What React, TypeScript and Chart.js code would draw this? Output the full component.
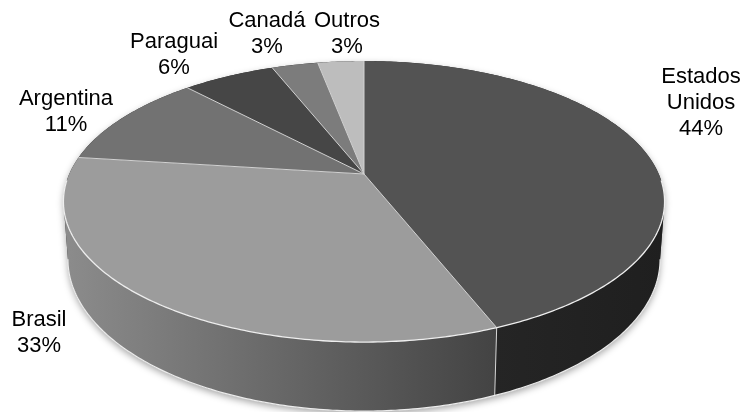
import React, { useEffect, useRef } from "react";
import { Chart, registerables } from "chart.js";

Chart.register(...registerables);

// Origem das importações (participação %)
const CATEGORIES = ["Estados Unidos", "Brasil", "Argentina", "Paraguai", "Canadá", "Outros"];
const SHARES = [44, 33, 11, 6, 3, 3];
const LABEL_LINES = [["Estados", "Unidos"], ["Brasil"], ["Argentina"], ["Paraguai"], ["Canadá"], ["Outros"]];

// Top-face and side-wall shades of each slice
const TOP_COLORS = ["#535353", "#9c9c9c", "#727272", "#464646", "#7c7c7c", "#bdbdbd"];
const SIDE_COLORS = [
  ["#252525", "#1f1f1f"],
  ["#8c8c8c", "#434343"],
  ["#5c5c5c", "#404040"],
  ["#333333", "#2a2a2a"],
  ["#606060", "#505050"],
  ["#9a9a9a", "#8a8a8a"],
];

// Label anchors: centre x and first baseline y
const LABEL_ANCHORS = [
  { x: 701, y: 83 },
  { x: 39, y: 326 },
  { x: 66, y: 105 },
  { x: 174, y: 48 },
  { x: 267, y: 27 },
  { x: 347, y: 27 },
];
const LINE_HEIGHT = 26;

// Tilted, perspective view of the disc
const VIEW = {
  ax: 1.694, // horizontal scale (× outer radius)
  by: 0.7765, // vertical scale (× outer radius)
  persp: 0.196, // perspective strength along depth
  depth: 0.319, // wall thickness (× outer radius)
  shrink: 0.985, // horizontal convergence of the wall's lower rim
};

const pie3d = {
  id: "pie3d",
  beforeDatasetsDraw(chart: any) {
    const ctx: CanvasRenderingContext2D = chart.ctx;
    const meta = chart.getDatasetMeta(0);
    const arcs = meta.data as any[];
    if (!arcs.length) return false;
    const cx = arcs[0].x;
    const cy = arcs[0].y;
    const R = arcs[0].outerRadius;
    const A = VIEW.ax * R;
    const B = VIEW.by * R;
    const P = VIEW.persp;
    const D = VIEW.depth * R;

    const top = (a: number) => {
      const u = Math.cos(a);
      const v = Math.sin(a);
      const w = 1 - P * v;
      return { x: cx + (A * u) / w, y: cy + (B * v) / w, w };
    };
    const bottom = (a: number) => {
      const t = top(a);
      return { x: cx + (t.x - cx) * VIEW.shrink, y: t.y + D / t.w };
    };
    const steps = (a0: number, a1: number) => Math.max(2, Math.ceil(Math.abs(a1 - a0) * 80));

    const aR = Math.asin(P);
    const aL = Math.PI - aR;

    ctx.save();

    // silhouette with soft drop shadow
    ctx.beginPath();
    let n = steps(aR, aL);
    for (let i = 0; i <= n; i++) {
      const p = bottom(aR + ((aL - aR) * i) / n);
      i === 0 ? ctx.moveTo(p.x, p.y) : ctx.lineTo(p.x, p.y);
    }
    n = steps(aL, aR + 2 * Math.PI);
    for (let i = 0; i <= n; i++) {
      const p = top(aL + ((aR + 2 * Math.PI - aL) * i) / n);
      ctx.lineTo(p.x, p.y);
    }
    ctx.closePath();
    ctx.shadowColor = "rgba(0,0,0,0.35)";
    ctx.shadowBlur = 7;
    ctx.shadowOffsetY = 3;
    ctx.fillStyle = "#2a2a2a";
    ctx.fill();
    ctx.shadowColor = "transparent";
    ctx.shadowBlur = 0;
    ctx.shadowOffsetY = 0;

    // side walls (front half only)
    arcs.forEach((arc, i) => {
      const a0 = Math.max(arc.startAngle, aR);
      const a1 = Math.min(arc.endAngle, aL);
      if (a1 <= a0) return;
      const m = steps(a0, a1);
      const pts: { x: number; y: number }[] = [];
      for (let k = 0; k <= m; k++) pts.push(top(a0 + ((a1 - a0) * k) / m));
      const bot: { x: number; y: number }[] = [];
      for (let k = m; k >= 0; k--) bot.push(bottom(a0 + ((a1 - a0) * k) / m));
      const all = pts.concat(bot);
      const xs = all.map((p) => p.x);
      const minX = Math.min(...xs);
      const maxX = Math.max(...xs);
      const g = ctx.createLinearGradient(minX, 0, maxX, 0);
      g.addColorStop(0, SIDE_COLORS[i][0]);
      g.addColorStop(1, SIDE_COLORS[i][1]);
      ctx.beginPath();
      all.forEach((p, k) => (k === 0 ? ctx.moveTo(p.x, p.y) : ctx.lineTo(p.x, p.y)));
      ctx.closePath();
      ctx.fillStyle = g;
      ctx.fill();
    });

    // seams between walls
    ctx.strokeStyle = "#d6d6d6";
    ctx.lineWidth = 1;
    arcs.forEach((arc) => {
      const a = arc.endAngle;
      if (a > aR && a < aL) {
        const t = top(a);
        const b = bottom(a);
        ctx.beginPath();
        ctx.moveTo(t.x, t.y);
        ctx.lineTo(b.x, b.y);
        ctx.stroke();
      }
    });

    // lower rim highlight
    ctx.beginPath();
    n = steps(aR, aL);
    for (let i = 0; i <= n; i++) {
      const p = bottom(aR + ((aL - aR) * i) / n);
      i === 0 ? ctx.moveTo(p.x, p.y) : ctx.lineTo(p.x, p.y);
    }
    ctx.strokeStyle = "#ececec";
    ctx.lineWidth = 1.2;
    ctx.stroke();

    // top faces
    arcs.forEach((arc, i) => {
      const a0 = arc.startAngle;
      const a1 = arc.endAngle;
      const m = steps(a0, a1);
      ctx.beginPath();
      ctx.moveTo(cx, cy);
      for (let k = 0; k <= m; k++) {
        const p = top(a0 + ((a1 - a0) * k) / m);
        ctx.lineTo(p.x, p.y);
      }
      ctx.closePath();
      ctx.fillStyle = TOP_COLORS[i];
      ctx.fill();
    });

    // slice borders on the top face
    ctx.strokeStyle = "#d2d2d2";
    ctx.lineWidth = 1;
    arcs.forEach((arc) => {
      const p = top(arc.startAngle);
      ctx.beginPath();
      ctx.moveTo(cx, cy);
      ctx.lineTo(p.x, p.y);
      ctx.stroke();
    });

    // upper rim highlight along the front
    ctx.beginPath();
    const r0 = aR - 0.15;
    const r1 = aL + 0.15;
    n = steps(r0, r1);
    for (let i = 0; i <= n; i++) {
      const p = top(r0 + ((r1 - r0) * i) / n);
      i === 0 ? ctx.moveTo(p.x, p.y) : ctx.lineTo(p.x, p.y);
    }
    ctx.strokeStyle = "#eeeeee";
    ctx.lineWidth = 1.3;
    ctx.stroke();

    // data labels
    const values = chart.data.datasets[0].data as number[];
    const total = values.reduce((s, v) => s + v, 0);
    ctx.fillStyle = "#000000";
    ctx.font = "22px 'Liberation Sans', Arial, sans-serif";
    ctx.textAlign = "center";
    ctx.textBaseline = "alphabetic";
    values.forEach((v, i) => {
      const lines = LABEL_LINES[i].concat([`${Math.round((v / total) * 100)}%`]);
      const anchor = LABEL_ANCHORS[i];
      lines.forEach((txt, k) => ctx.fillText(txt, anchor.x, anchor.y + k * LINE_HEIGHT));
    });

    ctx.restore();
    return false;
  },
};

export default function App() {
  const canvasRef = useRef<HTMLCanvasElement | null>(null);

  useEffect(() => {
    if (!canvasRef.current) return;
    const chart = new Chart(canvasRef.current, {
      type: "pie",
      data: {
        labels: CATEGORIES,
        datasets: [{ data: SHARES, backgroundColor: TOP_COLORS, borderWidth: 0 }],
      },
      options: {
        animation: false,
        responsive: false,
        devicePixelRatio: 1,
        events: [],
        layout: { padding: { left: 0, right: 18, top: 0, bottom: 64 } },
        plugins: { legend: { display: false }, tooltip: { enabled: false } },
      },
      plugins: [pie3d],
    });
    return () => chart.destroy();
  }, []);

  return (
    <div style={{ position: "fixed", left: 0, top: 0, width: 746, height: 412, background: "#ffffff" }}>
      <canvas ref={canvasRef} width={746} height={412} />
    </div>
  );
}
